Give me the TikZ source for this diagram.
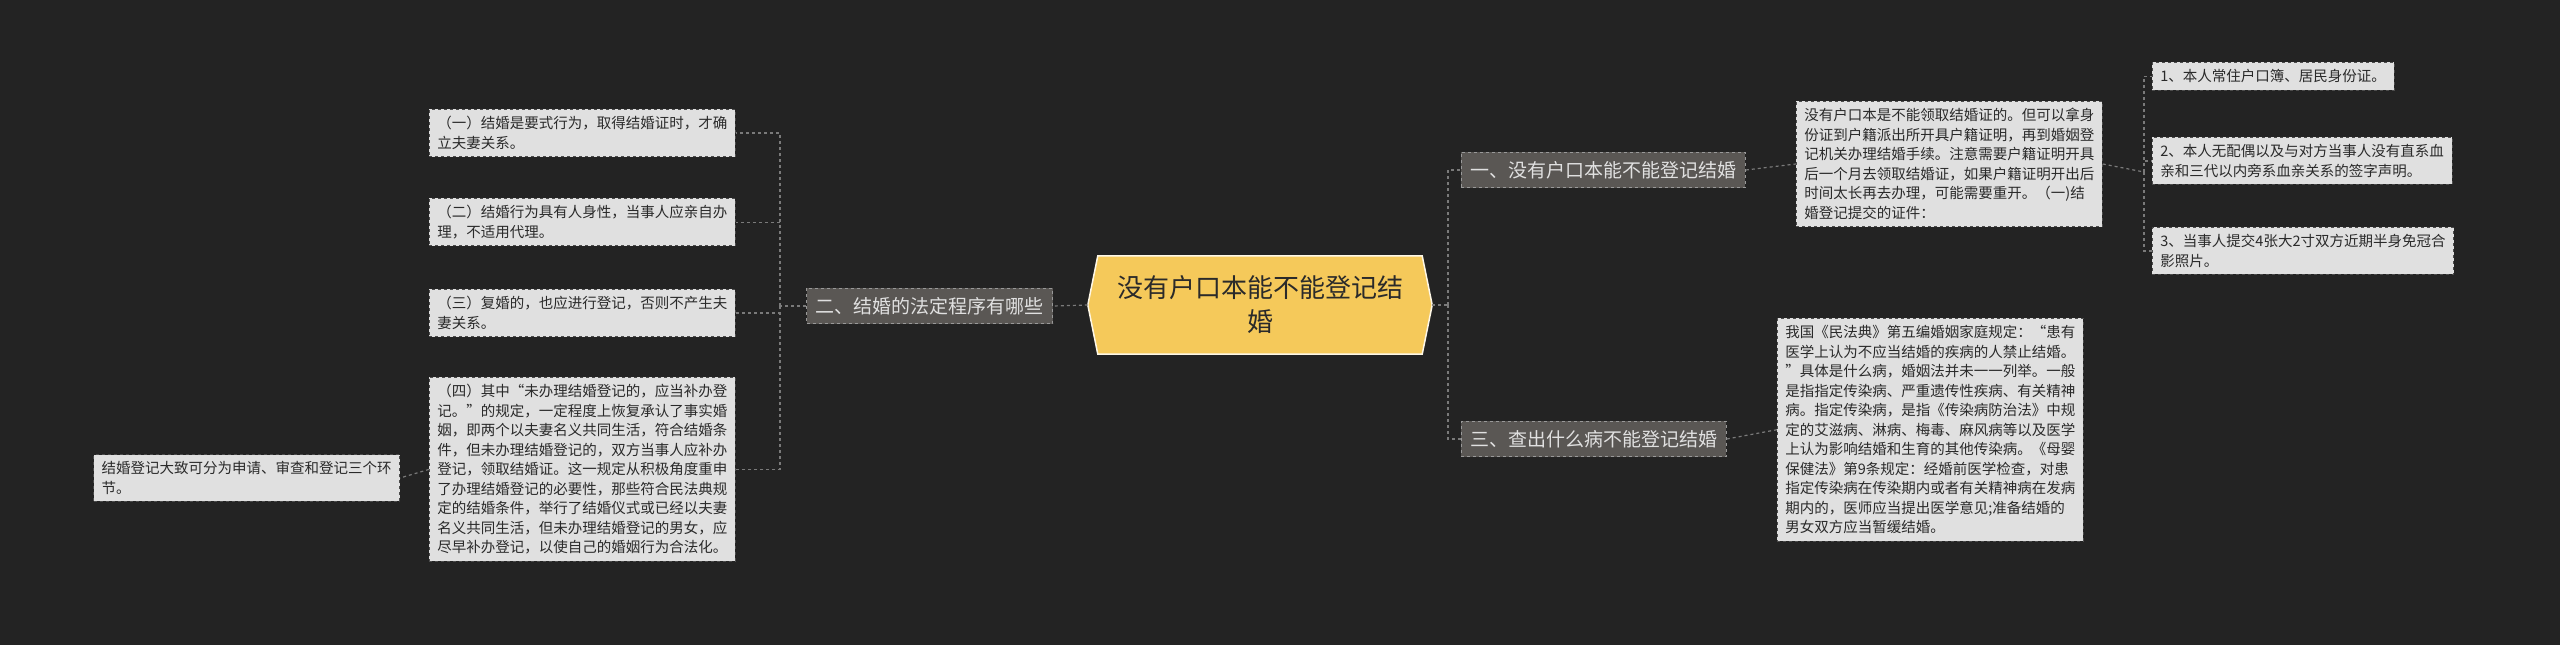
\documentclass[tikz,border=0pt]{standalone}
\usepackage{fontspec}
\setmainfont{Noto Sans CJK SC}
\begin{document}
\begin{tikzpicture}[x=1pt,y=-1pt,
  leaf/.style={draw=black!70,dashed,fill=boxg,text=txt,font=\fontsize{14.5}{19.5}\selectfont,align=left,inner xsep=8pt,inner ysep=7pt,anchor=north west,line width=0.8pt},
  br/.style={draw=black!40,dashed,fill=brg,text=white!88!black,font=\fontsize{19}{24}\selectfont,inner xsep=9pt,inner ysep=9pt,line width=0.8pt},
  link/.style={draw=lnk,dashed,line width=1.2pt}]
\definecolor{bg}{HTML}{232323}
\definecolor{boxg}{HTML}{E0E0E0}
\definecolor{txt}{HTML}{2A2A2A}
\definecolor{brg}{HTML}{5A5754}
\definecolor{lnk}{HTML}{7A7A7A}
\definecolor{cy}{HTML}{F5C95A}
\fill[bg] (0,0) rectangle (2560,645);
\useasboundingbox (0,0) rectangle (2560,645);
% center
\node[minimum width=344pt,minimum height=98pt,inner sep=0] (c) at (1260,305) {};
\fill[cy,draw=white!85!cy,line width=1.5pt] ([xshift=10pt]c.north west) -- ([xshift=-10pt]c.north east) -- (c.east) -- ([xshift=-10pt]c.south east) -- ([xshift=10pt]c.south west) -- (c.west) -- cycle;
\node[font=\fontsize{26}{34}\selectfont,text=txt,align=center] (ct) at (c) {没有户口本能不能登记结\\婚};
% branches
\node[br,anchor=east] (b2) at (1053,306) {二、结婚的法定程序有哪些};
\node[br,anchor=west] (b1) at (1461,170) {一、没有户口本能不能登记结婚};
\node[br,anchor=west] (b3) at (1461,439) {三、查出什么病不能登记结婚};
% left leaves
\node[leaf] (l1) at (429,109) {（一）结婚是要式行为，取得结婚证时，才确\\立夫妻关系。};
\node[leaf] (l2) at (429,198) {（二）结婚行为具有人身性，当事人应亲自办\\理，不适用代理。};
\node[leaf] (l3) at (429,289) {（三）复婚的，也应进行登记，否则不产生夫\\妻关系。};
\node[leaf] (l4) at (429,377) {（四）其中“未办理结婚登记的，应当补办登\\记。”的规定，一定程度上恢复承认了事实婚\\姻，即两个以夫妻名义共同生活，符合结婚条\\件，但未办理结婚登记的，双方当事人应补办\\登记，领取结婚证。这一规定从积极角度重申\\了办理结婚登记的必要性，那些符合民法典规\\定的结婚条件，举行了结婚仪式或已经以夫妻\\名义共同生活，但未办理结婚登记的男女，应\\尽早补办登记，以使自己的婚姻行为合法化。};
\node[leaf,anchor=east] (f) at (400,478) {结婚登记大致可分为申请、审查和登记三个环\\节。};
% right
\node[leaf] (p) at (1796,101) {没有户口本是不能领取结婚证的。但可以拿身\\份证到户籍派出所开具户籍证明，再到婚姻登\\记机关办理结婚手续。注意需要户籍证明开具\\后一个月去领取结婚证，如果户籍证明开出后\\时间太长再去办理，可能需要重开。（一)结\\婚登记提交的证件：};
\node[leaf] (s1) at (2152,62) {1、本人常住户口簿、居民身份证。};
\node[leaf] (s2) at (2152,137) {2、本人无配偶以及与对方当事人没有直系血\\亲和三代以内旁系血亲关系的签字声明。};
\node[leaf] (s3) at (2152,227) {3、当事人提交4张大2寸双方近期半身免冠合\\影照片。};
\node[leaf] (d) at (1777,318) {我国《民法典》第五编婚姻家庭规定：“患有\\医学上认为不应当结婚的疾病的人禁止结婚。\\”具体是什么病，婚姻法并未一一列举。一般\\是指指定传染病、严重遗传性疾病、有关精神\\病。指定传染病，是指《传染病防治法》中规\\定的艾滋病、淋病、梅毒、麻风病等以及医学\\上认为影响结婚和生育的其他传染病。《母婴\\保健法》第9条规定：经婚前医学检查，对患\\指定传染病在传染期内或者有关精神病在发病\\期内的，医师应当提出医学意见;准备结婚的\\男女双方应当暂缓结婚。};
% connectors
\draw[link] (c.west) -- (b2.east);
\draw[link] (c.east) -- (1448,305);
\draw[link] (1448,305) |- (b1.west);
\draw[link] (1448,305) |- (b3.west);
\coordinate (lj) at (780,306);
\draw[link] (b2.west) -- (lj);
\foreach \n in {l1,l2,l3,l4} \draw[link] (lj) |- (\n.east);
\draw[link] (l4.west) -- (f.east);
\draw[link] (b1.east) -- (p.west);
\draw[link] (b3.east) -- (d.west);
\coordinate (rj) at (2144,172);
\draw[link] (p.east) -- (rj);
\foreach \n in {s1,s2,s3} \draw[link] (rj) |- (\n.west);
\end{tikzpicture}
\end{document}
